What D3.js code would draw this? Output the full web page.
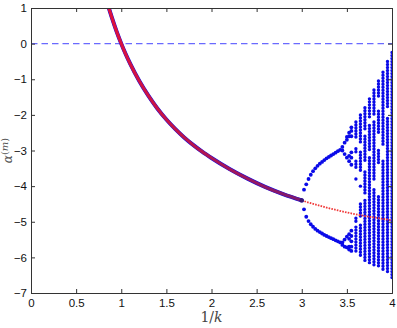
<!DOCTYPE html>
<html>
<head>
<meta charset="UTF-8">
<title>alpha vs 1/k</title>
<script src="https://d3js.org/d3.v7.min.js"></script>
<style>
  body { margin: 0; padding: 0; background: #fff; }
  svg { display: block; }
  .tick text { font-family: "Liberation Sans", Arial, sans-serif; font-size: 11.5px; fill: #111; }
</style>
</head>
<body>
<svg id="chart" width="397" height="328"></svg>
<script>
// stable branch (r = 1/k, alpha)
const stableR = [0.86, 0.9, 0.95, 1.0, 1.05, 1.1, 1.2, 1.3, 1.4, 1.5, 1.6, 1.7, 1.8, 1.9, 2.0, 2.2, 2.4, 2.6, 2.8, 3.0];
const stableA = [1.02, 0.7, 0.33, 0.0, -0.3, -0.57, -1.05, -1.46, -1.82, -2.13, -2.4, -2.64, -2.85, -3.04, -3.21, -3.52, -3.79, -4.03, -4.23, -4.4];

// unstable continuation (red dotted)
const unstableR = [3.0, 3.1, 3.2, 3.3, 3.4, 3.5, 3.6, 3.7, 3.8, 3.9, 4.0];
const unstableA = [-4.4, -4.48, -4.55, -4.62, -4.68, -4.74, -4.79, -4.84, -4.88, -4.92, -4.96];

// period-2 branches
const p2R = [3.0, 3.025, 3.05, 3.075, 3.1, 3.125, 3.15, 3.175, 3.2, 3.225, 3.25, 3.275, 3.3, 3.325, 3.35, 3.375, 3.4, 3.425];
const p2Upper = [-4.4, -4.1, -3.95, -3.8, -3.68, -3.58, -3.5, -3.43, -3.37, -3.32, -3.27, -3.22, -3.18, -3.14, -3.1, -3.06, -3.02, -2.98];
const p2Lower = [-4.4, -4.65, -4.86, -4.98, -5.07, -5.14, -5.2, -5.25, -5.29, -5.33, -5.37, -5.4, -5.43, -5.46, -5.49, -5.52, -5.55, -5.58];

// period-4/8 points
const p4R = [3.45, 3.475, 3.5, 3.525, 3.55];
const p4A = [
  [-2.9, -3.0, -5.58, -5.65],
  [-2.78, -3.1, -5.5, -5.7],
  [-2.62, -2.7, -3.2, -5.42, -5.72],
  [-2.5, -2.6, -3.15, -3.3, -5.35, -5.48, -5.7, -5.78],
  [-2.35, -2.45, -2.6, -3.05, -3.2, -3.4, -5.25, -5.4, -5.55, -5.7, -5.82]
];

// chaotic region: columns of [top, bottom] runs
const chaosR = [3.6, 3.65, 3.7, 3.75, 3.8, 3.85, 3.9, 3.95, 4.0];
const chaosRuns = [
  [[-2.2, -2.7], [-2.95, -3.1], [-3.3, -3.5], [-3.8, -3.8], [-4.9, -5.0], [-5.15, -5.9]],
  [[-2.0, -2.8], [-3.05, -3.6], [-4.0, -4.0], [-4.5, -4.9], [-5.1, -6.0]],
  [[-1.8, -2.4], [-2.6, -3.3], [-3.6, -4.2], [-4.4, -6.1]],
  [[-1.55, -2.1], [-2.3, -3.0], [-3.2, -6.15]],
  [[-1.3, -2.0], [-2.2, -3.8], [-4.1, -6.22]],
  [[-1.05, -1.5], [-1.9, -2.5], [-3.0, -3.4], [-4.3, -6.3]],
  [[-0.8, -2.9], [-3.3, -6.35]],
  [[-0.5, -1.8], [-2.1, -6.45]],
  [[-0.25, -6.6]]
];

const xTicks = [0, 0.5, 1, 1.5, 2, 2.5, 3, 3.5, 4];
const yTicks = [1, 0, -1, -2, -3, -4, -5, -6, -7];

const W = 397, H = 328;
const margin = { top: 8, right: 5, bottom: 35, left: 31 };

const svg = d3.select("#chart");

const x = d3.scaleLinear().domain([0, 4]).range([margin.left, W - margin.right]);
const y = d3.scaleLinear().domain([-7, 1]).range([H - margin.bottom, margin.top]);

const blue = "#0a0ae8";

// clip to plot area
svg.append("clipPath").attr("id", "clip")
  .append("rect")
  .attr("x", margin.left).attr("y", margin.top)
  .attr("width", x(4) - x(0)).attr("height", y(-7) - y(1));

const plot = svg.append("g").attr("clip-path", "url(#clip)");

// zero line
plot.append("line")
  .attr("x1", x(0)).attr("x2", x(4))
  .attr("y1", y(0)).attr("y2", y(0))
  .attr("stroke", "#6a6aff")
  .attr("stroke-width", 1.1)
  .attr("stroke-dasharray", "6.5,4");

// stable branch: blue underneath, red on top
const stable = stableR.map((r, i) => [r, stableA[i]]);
const line = d3.line().x(d => x(d[0])).y(d => y(d[1])).curve(d3.curveMonotoneX);

const grad = svg.append("defs").append("linearGradient")
  .attr("id", "redgrad").attr("gradientUnits", "userSpaceOnUse")
  .attr("x1", x(0.86)).attr("x2", x(3)).attr("y1", 0).attr("y2", 0);
grad.append("stop").attr("offset", "0%").attr("stop-color", "#e0103c");
grad.append("stop").attr("offset", "35%").attr("stop-color", "#c0144a");
grad.append("stop").attr("offset", "100%").attr("stop-color", "#7c1a70");

plot.append("path").datum(stable)
  .attr("d", line).attr("fill", "none")
  .attr("stroke", blue).attr("stroke-width", 4);
plot.append("path").datum(stable)
  .attr("d", line).attr("fill", "none")
  .attr("stroke", "url(#redgrad)").attr("stroke-width", 3.2);

// period-2 / period-4 points
const dots = [];
p2R.forEach((r, i) => {
  dots.push([r, p2Upper[i]]);
  dots.push([r, p2Lower[i]]);
});
p4R.forEach((r, i) => p4A[i].forEach(a => dots.push([r, a])));

plot.selectAll(".dot").data(dots).enter().append("circle")
  .attr("class", "dot")
  .attr("cx", d => x(d[0])).attr("cy", d => y(d[1]))
  .attr("r", 1.9).attr("fill", blue);

// chaotic runs as dotted vertical segments
const runs = [];
chaosR.forEach((r, i) => chaosRuns[i].forEach(s => runs.push({ r: r, top: s[0], bot: s[1] })));

plot.selectAll(".run").data(runs).enter().append("line")
  .attr("class", "run")
  .attr("x1", d => x(d.r)).attr("x2", d => x(d.r))
  .attr("y1", d => y(d.top)).attr("y2", d => y(d.bot) + 0.01)
  .attr("stroke", blue).attr("stroke-width", 3.4)
  .attr("stroke-linecap", "round")
  .attr("stroke-dasharray", "0,3");

// red dotted unstable branch
const unstable = unstableR.map((r, i) => [r, unstableA[i]]);
plot.append("path").datum(unstable)
  .attr("d", line).attr("fill", "none")
  .attr("stroke", "#f03a3a").attr("stroke-width", 1.8)
  .attr("stroke-dasharray", "1.6,1.2");

// junction point
plot.append("circle").attr("cx", x(3)).attr("cy", y(-4.4)).attr("r", 2.2).attr("fill", "#3a1870");

// axes
const axisColor = "#333";
const gx = svg.append("g").attr("transform", `translate(0,${y(-7)})`)
  .call(d3.axisBottom(x).tickValues(xTicks).tickFormat(d3.format("")).tickSize(-4).tickPadding(6));
const gxt = svg.append("g").attr("transform", `translate(0,${y(1)})`)
  .call(d3.axisTop(x).tickValues(xTicks).tickFormat("").tickSize(-4));
const gy = svg.append("g").attr("transform", `translate(${x(0)},0)`)
  .call(d3.axisLeft(y).tickValues(yTicks).tickFormat(d => d < 0 ? "\u2212" + Math.abs(d) : d).tickSize(-4).tickPadding(4));
const gyr = svg.append("g").attr("transform", `translate(${x(4)},0)`)
  .call(d3.axisRight(y).tickValues(yTicks).tickFormat("").tickSize(-4));

[gx, gxt, gy, gyr].forEach(g => {
  g.select(".domain").attr("stroke", axisColor).attr("stroke-width", 1);
  g.selectAll(".tick line").attr("stroke", axisColor);
});

// axis labels
svg.append("text")
  .attr("x", (x(0) + x(4)) / 2).attr("y", 322)
  .attr("text-anchor", "middle")
  .attr("font-family", "'DejaVu Serif', 'Liberation Serif', serif")
  .attr("font-size", 14).attr("fill", "#444")
  .html('1/<tspan font-style="italic">k</tspan>');

svg.append("text")
  .attr("transform", `translate(12,${y(-3.0)}) rotate(-90)`)
  .attr("text-anchor", "middle")
  .attr("font-family", "'DejaVu Serif', 'Liberation Serif', serif")
  .attr("font-size", 12).attr("fill", "#555")
  .html('<tspan font-style="italic">α</tspan><tspan dy="-4" font-size="10">(</tspan><tspan font-size="10" font-style="italic">m</tspan><tspan font-size="10">)</tspan>');
</script>
</body>
</html>
